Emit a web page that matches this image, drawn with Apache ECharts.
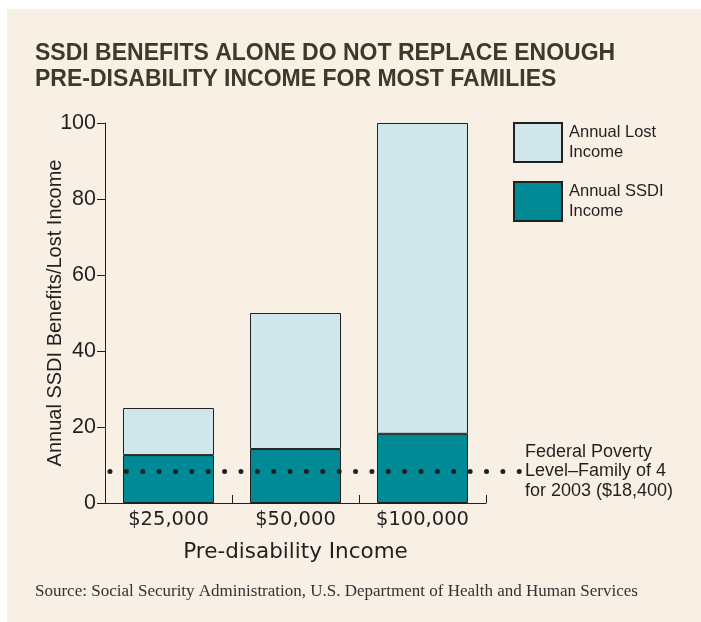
<!DOCTYPE html>
<html>
<head>
<meta charset="utf-8">
<script src="https://cdn.jsdelivr.net/npm/echarts@6/dist/echarts.min.js"></script>
<style>
  html, body { margin: 0; padding: 0; background: #ffffff; }
  #chart { width: 701px; height: 622px; }
</style>
</head>
<body>
<div id="chart"></div>
<script>
// ---- data ----
const categories = ['$25,000', '$50,000', '$100,000'];
const ssdiIncome = [12.6, 14.2, 18.2];
const lostIncome = [12.4, 35.8, 81.8];
const povertyLevel = 8.4;
const yMin = 0, yMax = 100, yInterval = 20;
const titleText = 'SSDI BENEFITS ALONE DO NOT REPLACE ENOUGH\nPRE-DISABILITY INCOME FOR MOST FAMILIES';
const sourceText = 'Source: Social Security Administration, U.S. Department of Health and Human Services';
const povertyLabel = 'Federal Poverty\nLevel\u2013Family of 4\nfor 2003 ($18,400)';

// ---- layout ----
const W = 701, H = 622;
const grid = { left: 105, right: 215, top: 123, bottom: 119 };
const ink = '#231f20';
const sans = '"Liberation Sans", Arial, sans-serif';
const wide = '"DejaVu Sans", sans-serif';

const chart = echarts.init(document.getElementById('chart'), null, { renderer: 'canvas' });

const option = {
  backgroundColor: '#ffffff',
  animation: false,
  graphic: [{
    type: 'rect', left: 7, top: 9, z: -100, silent: true,
    shape: { width: W - 7, height: H - 9 },
    style: { fill: '#f8efe5' }
  }],
  title: [{
    text: titleText, left: 35, top: 41, padding: 0,
    textStyle: { fontFamily: sans, fontWeight: 'bold', fontSize: 23, lineHeight: 26, color: '#3b3a2b' }
  }, {
    text: sourceText, left: 35, top: 583, padding: 0,
    textStyle: { fontFamily: '"Liberation Serif", "Times New Roman", serif', fontWeight: 'normal', fontSize: 17, color: '#333333' }
  }],
  legend: {
    orient: 'vertical', left: 513, top: 122, padding: 0,
    itemWidth: 48, itemHeight: 39, itemGap: 18,
    icon: 'rect',
    data: ['Annual Lost\nIncome', 'Annual SSDI\nIncome'],
    textStyle: { fontFamily: sans, fontSize: 16.5, lineHeight: 19.5, color: ink, padding: [0, 0, 0, 2] }
  },
  grid: { left: grid.left, right: grid.right, top: grid.top, bottom: grid.bottom, containLabel: false },
  xAxis: {
    type: 'category', data: categories, boundaryGap: true,
    axisLine: { lineStyle: { color: ink, width: 1 } },
    axisTick: { show: true, inside: true, length: 8, interval: 0, lineStyle: { color: ink } },
    axisLabel: { fontFamily: wide, fontSize: 19.5, color: ink, margin: 7, interval: 0 },
    name: 'Pre-disability Income', nameLocation: 'middle', nameGap: 38, nameMoveOverlap: false,
    nameTextStyle: { fontFamily: wide, fontSize: 21.5, color: ink }
  },
  yAxis: {
    type: 'value', min: yMin, max: yMax, interval: yInterval,
    axisLine: { show: true, lineStyle: { color: ink, width: 1 } },
    axisTick: { show: true, inside: false, length: 8, lineStyle: { color: ink } },
    splitLine: { show: false },
    axisLabel: { fontFamily: sans, fontSize: 21.5, color: ink, margin: 9 },
    name: 'Annual SSDI Benefits/Lost Income', nameLocation: 'middle', nameGap: 40, nameMoveOverlap: false,
    nameTextStyle: { fontFamily: sans, fontSize: 20, color: ink }
  },
  series: [{
    name: 'Annual SSDI\nIncome', type: 'bar', stack: 'total', data: ssdiIncome,
    barWidth: 91,
    itemStyle: { color: '#008a96', borderColor: ink, borderWidth: 1 },
    markLine: {
      silent: true, symbol: 'none', animation: false,
      lineStyle: { color: ink, width: 5, type: [0.01, 16.36], cap: 'round' },
      label: {
        show: true, position: 'end', distance: 5, formatter: povertyLabel,
        fontFamily: sans, fontSize: 18, lineHeight: 19.5, color: ink
      },
      emphasis: { disabled: true },
      data: [[
        { x: grid.left + 5, yAxis: povertyLevel },
        { x: W - grid.right + 34, yAxis: povertyLevel }
      ]]
    }
  }, {
    name: 'Annual Lost\nIncome', type: 'bar', stack: 'total', data: lostIncome,
    barWidth: 91,
    itemStyle: { color: '#cfe6ea', borderColor: ink, borderWidth: 1 }
  }]
};
chart.setOption(option);
</script>
</body>
</html>
